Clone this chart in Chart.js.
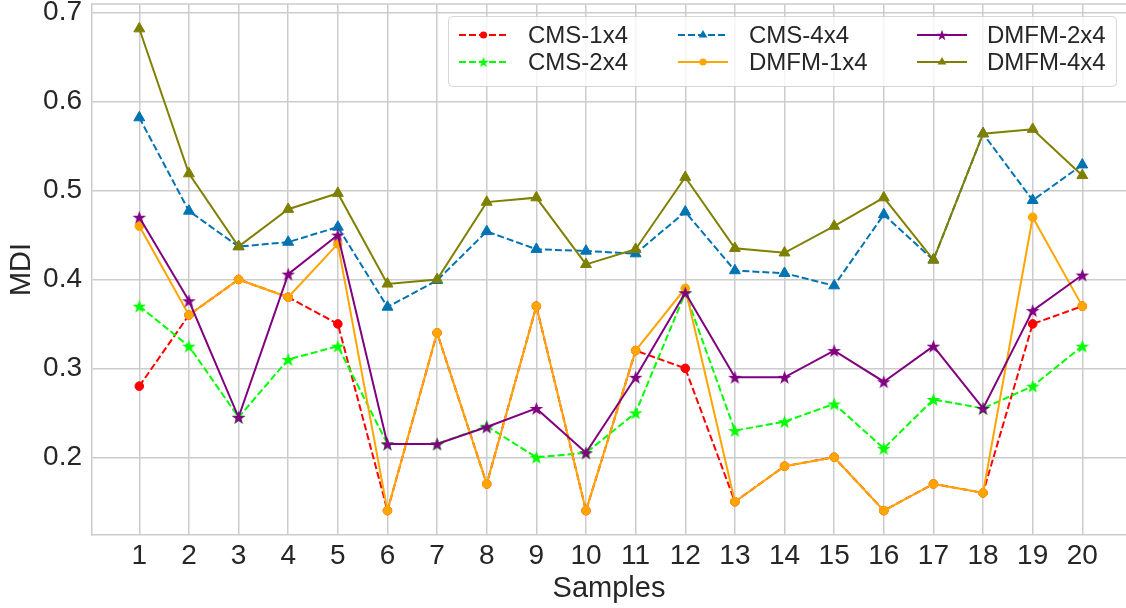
<!DOCTYPE html>
<html><head><meta charset="utf-8">
<script src="https://cdn.jsdelivr.net/npm/chart.js@4.4.1/dist/chart.umd.min.js"></script>
<style>html,body{margin:0;padding:0;background:#fff;overflow:hidden}</style>
</head><body>
<canvas id="c" width="1126" height="608"></canvas>
<script>
const samples = [1,2,3,4,5,6,7,8,9,10,11,12,13,14,15,16,17,18,19,20];
const yTicks = [0.2,0.3,0.4,0.5,0.6,0.7];
const cms1x4  = [0.28,0.36,0.40,0.38,0.35,0.14,0.34,0.17,0.37,0.14,0.32,0.30,0.15,0.19,0.20,0.14,0.17,0.16,0.35,0.37];
const cms2x4  = [0.37,0.325,0.245,0.31,0.325,0.215,0.215,0.235,0.20,0.205,0.25,0.385,0.23,0.24,0.26,0.21,0.265,0.255,0.28,0.325];
const cms4x4  = [0.582,0.477,0.437,0.442,0.459,0.369,0.399,0.454,0.434,0.432,0.429,0.476,0.41,0.407,0.393,0.473,0.422,0.564,0.489,0.529];
const dmfm1x4 = [0.46,0.36,0.40,0.38,0.44,0.14,0.34,0.17,0.37,0.14,0.32,0.39,0.15,0.19,0.20,0.14,0.17,0.16,0.47,0.37];
const dmfm2x4 = [0.47,0.376,0.245,0.406,0.45,0.215,0.215,0.234,0.255,0.205,0.29,0.385,0.29,0.29,0.32,0.285,0.325,0.255,0.365,0.405];
const dmfm4x4 = [0.682,0.519,0.437,0.479,0.497,0.395,0.40,0.487,0.492,0.417,0.434,0.515,0.435,0.43,0.46,0.492,0.422,0.564,0.569,0.517];
const seriesNames = ['CMS-1x4','CMS-2x4','CMS-4x4','DMFM-1x4','DMFM-2x4','DMFM-4x4'];

const FONT = "'Liberation Sans', Arial, sans-serif";
const TXT = '#262626';
const GRID = '#cccccc';

function starCanvas(color, size){
  const c = document.createElement('canvas'); c.width = c.height = size;
  const g = c.getContext('2d'); const R = size/2 - 0.3, r = R*0.4, cx = size/2, cy = size/2 + R*0.1;
  g.beginPath();
  for (let i=0;i<10;i++){ const a=-Math.PI/2+i*Math.PI/5; const rr = i%2 ? r : R; g.lineTo(cx+rr*Math.cos(a), cy+rr*Math.sin(a)); }
  g.closePath(); g.fillStyle = color; g.fill();
  return c;
}

const styles = [
  {color:'#ff0000', dash:[7,3], marker:'circle', values:cms1x4},
  {color:'#00ff00', dash:[7,3], marker:'star', values:cms2x4},
  {color:'#0173b2', dash:[7,3], marker:'triangle', values:cms4x4},
  {color:'#ffa500', dash:[], marker:'circle', values:dmfm1x4},
  {color:'#800080', dash:[], marker:'star', values:dmfm2x4},
  {color:'#808000', dash:[], marker:'triangle', values:dmfm4x4},
];

const datasets = styles.map((s,i)=>{
  let ps = s.marker, pr = 4.3;
  if (s.marker==='star') { ps = starCanvas(s.color, 15); pr = 7; }
  if (s.marker==='triangle') { pr = 6.3; }
  return {
    label: seriesNames[i],
    data: samples.map((x,k)=>({x, y:s.values[k]})),
    borderColor: s.color, backgroundColor: s.color,
    borderWidth: 2, borderDash: s.dash,
    pointStyle: ps, pointRadius: pr, pointBorderWidth: 1,
    pointBorderColor: s.color, pointBackgroundColor: s.color,
    tension: 0, order: 5 - i, clip: false
  };
});

function drawMarker(ctx, s, x, y, legend){
  ctx.save(); ctx.setLineDash([]); ctx.fillStyle = s.color;
  if (s.marker==='circle'){ ctx.beginPath(); ctx.arc(x,y,legend?3.6:4,0,Math.PI*2); ctx.fill(); }
  else if (s.marker==='triangle'){
    const r = legend?5:6; ctx.beginPath();
    for (let k=0;k<3;k++){ const a=-Math.PI/2+k*2*Math.PI/3; ctx.lineTo(x+r*Math.cos(a), y+r*Math.sin(a)); }
    ctx.closePath(); ctx.fill();
  } else {
    const c = starCanvas(s.color, legend?12:15); ctx.drawImage(c, x-c.width/2, y-c.height/2);
  }
  ctx.restore();
}

const framePlugin = {
  id:'frame',
  beforeDatasetsDraw(chart){
    const {ctx, chartArea:a} = chart;
    ctx.save(); ctx.strokeStyle = GRID; ctx.lineWidth = 1.5;
    ctx.beginPath(); ctx.moveTo(a.left, a.top); ctx.lineTo(a.right, a.top); ctx.stroke();
    ctx.restore();
  },
  afterDraw(chart){
    const ctx = chart.ctx;
    ctx.save();
    const bx=448.5, by=16.5, bw=668, bh=70, rad=4;
    ctx.beginPath();
    ctx.moveTo(bx+rad,by); ctx.lineTo(bx+bw-rad,by); ctx.quadraticCurveTo(bx+bw,by,bx+bw,by+rad);
    ctx.lineTo(bx+bw,by+bh-rad); ctx.quadraticCurveTo(bx+bw,by+bh,bx+bw-rad,by+bh);
    ctx.lineTo(bx+rad,by+bh); ctx.quadraticCurveTo(bx,by+bh,bx,by+bh-rad);
    ctx.lineTo(bx,by+rad); ctx.quadraticCurveTo(bx,by,bx+rad,by); ctx.closePath();
    ctx.fillStyle='rgba(255,255,255,0.8)'; ctx.fill();
    ctx.strokeStyle='rgba(204,204,204,0.8)'; ctx.lineWidth=1; ctx.stroke();
    const cols=[{h0:459,h1:508,t:528},{h0:678,h1:728,t:749},{h0:917,h1:967,t:987}];
    const rows=[35,62];
    styles.forEach((s,i)=>{
      const c = cols[Math.floor(i/2)], y = rows[i%2];
      ctx.strokeStyle=s.color; ctx.lineWidth=2; ctx.setLineDash(s.dash);
      ctx.beginPath(); ctx.moveTo(c.h0,y); ctx.lineTo(c.h1,y); ctx.stroke();
      drawMarker(ctx, s, (c.h0+c.h1)/2, y, true);
      ctx.setLineDash([]);
      ctx.fillStyle=TXT; ctx.font='24px '+FONT; ctx.textBaseline='middle'; ctx.textAlign='left';
      ctx.fillText(seriesNames[i], c.t, y+1);
    });
    ctx.restore();
  }
};

new Chart(document.getElementById('c'), {
  type:'line',
  data:{datasets},
  options:{
    responsive:false, animation:false,
    layout:{padding:{top:4,right:0,left:0,bottom:0}, autoPadding:false},
    plugins:{legend:{display:false}, tooltip:{enabled:false}},
    scales:{
      x:{type:'linear', min:0.047, max:20.88,
        afterBuildTicks(sc){ sc.ticks = samples.map(v=>({value:v})); },
        afterFit(sc){ sc.height = 73; sc.paddingLeft = 0; sc.paddingRight = 0; },
        grid:{color:GRID, lineWidth:1.5, drawTicks:false},
        border:{color:GRID, width:1.5},
        ticks:{color:TXT, font:{family:FONT, size:28}, padding:4, maxRotation:0, autoSkip:false, callback:v=>String(v)},
        title:{display:true, text:'Samples', color:TXT, font:{family:FONT, size:29}, padding:{top:0,bottom:2}}
      },
      y:{type:'linear', min:0.1126, max:0.7098,
        afterBuildTicks(sc){ sc.ticks = yTicks.map(v=>({value:v})); },
        afterFit(sc){ sc.width = 92; sc.paddingTop = 0; sc.paddingBottom = 0; },
        grid:{color:GRID, lineWidth:1.5, drawTicks:false},
        border:{color:GRID, width:1.5},
        ticks:{color:TXT, font:{family:FONT, size:28}, padding:10, callback:v=>v.toFixed(1)},
        title:{display:true, text:'MDI', color:TXT, font:{family:FONT, size:29}, padding:{top:5,bottom:0}}
      }
    }
  },
  plugins:[framePlugin]
});
</script>
</body></html>
